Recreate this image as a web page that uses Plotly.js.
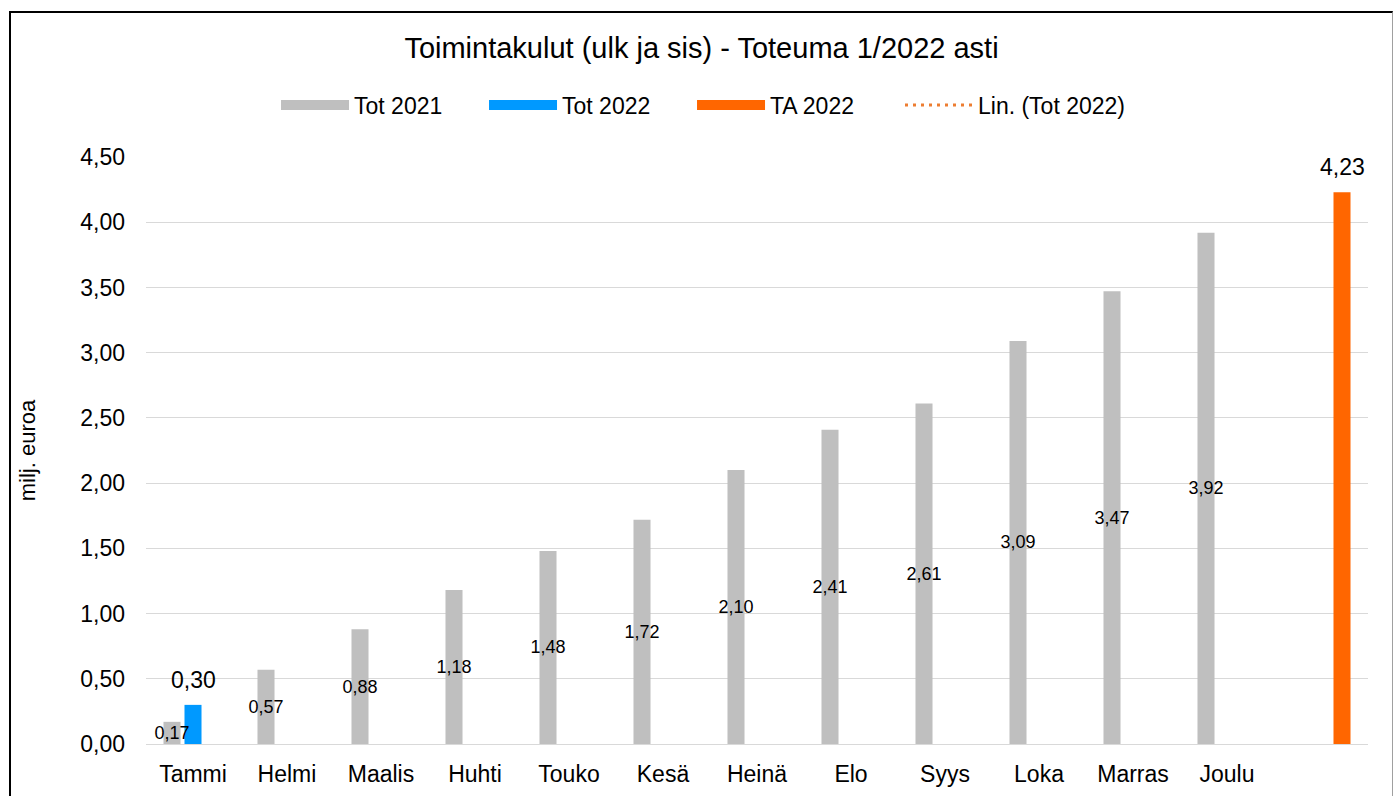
<!DOCTYPE html>
<html>
<head>
<meta charset="utf-8">
<script src="https://cdn.plot.ly/plotly-3.0.1.min.js"></script>
<style>
  html, body { margin: 0; padding: 0; background: #fff; width: 1397px; height: 796px; overflow: hidden; }
  #frame { position: absolute; left: 9px; top: 11px; width: 1381px; height: 790px;
           border-top: 2px solid #000; border-left: 2px solid #000; border-right: 1px solid #a0a0a0; }
  #chart { width: 1381px; height: 783px; }
</style>
</head>
<body>
<div id="frame"><div id="chart"></div></div>
<script>
const categories = ["Tammi", "Helmi", "Maalis", "Huhti", "Touko", "Kesä", "Heinä", "Elo", "Syys", "Loka", "Marras", "Joulu", " "];
const tot2021 = [0.17, 0.57, 0.88, 1.18, 1.48, 1.72, 2.10, 2.41, 2.61, 3.09, 3.47, 3.92];
const tot2022Cats = ["Tammi"];
const tot2022 = [0.30];
const ta2022Cats = [" "];
const ta2022 = [4.23];
const yTicks = [0, 0.5, 1, 1.5, 2, 2.5, 3, 3.5, 4, 4.5];

const fmt = v => v.toFixed(2).replace('.', ',');
const FONT = 'Arial, "Liberation Sans", sans-serif';
const GRAY = '#bfbfbf', BLUE = '#0099ff', ORANGE = '#ff6600', TREND = '#ed7d31';

// bar geometry (fraction of a category slot)
const BW = 0.181, STEP = 0.2234;

const traces = [
  { type: 'bar', name: 'Tot 2022', x: tot2022Cats, y: tot2022,
    width: BW, offset: -BW / 2, marker: { color: BLUE }, showlegend: false },
  { type: 'bar', name: 'TA 2022', x: ta2022Cats, y: ta2022,
    width: BW, offset: STEP - BW / 2, marker: { color: ORANGE }, showlegend: false },
  { type: 'bar', name: 'Tot 2021', x: categories.slice(0, tot2021.length), y: tot2021,
    width: BW, offset: -STEP - BW / 2,
    marker: { color: GRAY }, text: tot2021.map(fmt), textposition: 'inside',
    insidetextanchor: 'middle', textangle: 0, constraintext: 'none', cliponaxis: false,
    textfont: { family: FONT, size: 18, color: '#000' }, showlegend: false, hoverinfo: 'x+y' },
  // legend entries
  { type: 'scatter', mode: 'lines', name: 'Tot 2021', x: [null], y: [null],
    line: { color: GRAY, width: 12 }, hoverinfo: 'skip', legend: 'legend' },
  { type: 'scatter', mode: 'lines', name: 'Tot 2022', x: [null], y: [null],
    line: { color: BLUE, width: 12 }, hoverinfo: 'skip', legend: 'legend' },
  { type: 'scatter', mode: 'lines', name: 'TA 2022', x: [null], y: [null],
    line: { color: ORANGE, width: 12 }, hoverinfo: 'skip', legend: 'legend' },
  { type: 'scatter', mode: 'lines', name: 'Lin. (Tot 2022)', x: tot2022Cats, y: tot2022,
    line: { color: TREND, width: 3, dash: '3px,5px' }, hoverinfo: 'skip', legend: 'legend2' }
];

const labelFont = { family: FONT, size: 23, color: '#000' };
const annotations = [
  ...tot2022Cats.map((c, i) => ({ x: c, y: tot2022[i], xref: 'x', yref: 'y', text: fmt(tot2022[i]),
      showarrow: false, xanchor: 'center', yanchor: 'bottom', yshift: 10, xshift: 0, font: labelFont })),
  ...ta2022Cats.map((c, i) => ({ x: c, y: ta2022[i], xref: 'x', yref: 'y', text: fmt(ta2022[i]),
      showarrow: false, xanchor: 'center', yanchor: 'bottom', yshift: 10, xshift: 21, font: labelFont }))
];

const legendBase = { orientation: 'h', yanchor: 'middle', y: 1.0886, xanchor: 'left',
                     font: { family: FONT, size: 23, color: '#000' }, itemwidth: 68,
                     bgcolor: 'rgba(0,0,0,0)', traceorder: 'normal' };

const layout = {
  width: 1381, height: 783,
  margin: { l: 135, r: 24, t: 144, b: 52 },
  paper_bgcolor: '#fff', plot_bgcolor: '#fff',
  font: { family: FONT, color: '#000', size: 22 },
  separators: ', ',
  barmode: 'overlay',
  title: { text: 'Toimintakulut (ulk ja sis) - Toteuma 1/2022 asti',
           font: { family: FONT, size: 29, color: '#000' },
           x: 0.5, xanchor: 'center', y: 0.955, yanchor: 'middle', yref: 'container' },
  legend: Object.assign({}, legendBase, { x: 0.1064, entrywidth: 125 }),
  legend2: Object.assign({}, legendBase, { x: 0.617 }),
  annotations: annotations,
  xaxis: { type: 'category', categoryorder: 'array', categoryarray: categories,
           range: [-0.5, categories.length - 0.5],
           showgrid: false, showline: true, linecolor: '#d9d9d9', linewidth: 1,
           ticks: '', ticklabelstandoff: 9, tickfont: { family: FONT, size: 23, color: '#000' },
           fixedrange: true },
  yaxis: { range: [0, 4.5], tickvals: yTicks, tickformat: '.2f',
           showgrid: true, gridcolor: '#d9d9d9', gridwidth: 1, zeroline: false,
           showline: false, ticks: '', ticklabelstandoff: 20,
           tickfont: { family: FONT, size: 23, color: '#000' },
           title: { text: 'milj. euroa', font: { family: FONT, size: 22, color: '#000' }, standoff: 38 },
           fixedrange: true }
};

Plotly.newPlot('chart', traces, layout, { displayModeBar: false, staticPlot: true });
</script>
</body>
</html>
